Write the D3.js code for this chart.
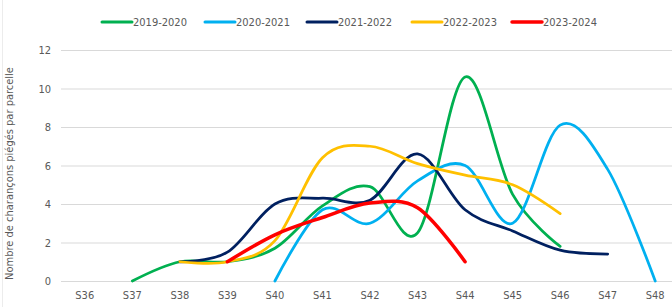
<!DOCTYPE html>
<html>
<head>
<meta charset="utf-8">
<script src="https://cdn.jsdelivr.net/npm/d3@7"></script>
<style>
  html, body { margin: 0; padding: 0; background: #fff; }
  svg { display: block; }
</style>
</head>
<body>
<div id="chart"></div>
<script>
// weeks on the x axis
const weeks = ["S36", "S37", "S38", "S39", "S40", "S41", "S42", "S43", "S44", "S45", "S46", "S47", "S48"];

const seasons = ["2019-2020", "2020-2021", "2021-2022", "2022-2023", "2023-2024"];
const seasonColors = ["#00b050", "#00b0f0", "#002060", "#ffc000", "#ff0000"];

// trap counts per week (null = no reading)
const s2019 = [null, 0, 1, 1, 1.7, 3.9, 4.9, 2.5, 10.6, 4.5, 1.8, null, null];
const s2020 = [null, null, null, null, 0, 3.7, 3.0, 5.2, 6.0, 3.0, 8.1, 5.8, 0];
const s2021 = [null, null, 1, 1.5, 4.0, 4.3, 4.2, 6.6, 3.7, 2.6, 1.6, 1.4, null];
const s2022 = [null, null, 1, 1, 2.1, 6.4, 7.0, 6.1, 5.5, 5.0, 3.5, null, null];
const s2023 = [null, null, null, 1, 2.4, 3.3, 4.05, 3.8, 1.0, null, null, null, null];

const yTicks = [0, 2, 4, 6, 8, 10, 12];

const series = [s2019, s2020, s2021, s2022, s2023].map((vals, i) => ({
  name: seasons[i],
  color: seasonColors[i],
  values: vals.map((v, j) => ({ week: weeks[j], value: v }))
}));

const width = 672;
const height = 307;
const margin = { top: 50, right: -7, bottom: 26, left: 61 };

const font = "'Liberation Sans Narrow', 'DejaVu Sans Condensed', 'Open Sans', sans-serif";

const svg = d3.select("#chart")
  .append("svg")
  .attr("width", width)
  .attr("height", height)
  .style("font-family", font);

const x = d3.scaleBand()
  .domain(weeks)
  .range([margin.left, width - margin.right]);

const y = d3.scaleLinear()
  .domain([0, 12])
  .range([height - margin.bottom, margin.top]);

// faint outer border on the left
svg.append("line")
  .attr("x1", 2.5).attr("x2", 2.5)
  .attr("y1", 0).attr("y2", height)
  .attr("stroke", "#ececec");

// gridlines + y labels
const yAxis = svg.append("g")
  .attr("transform", `translate(${margin.left},0)`)
  .call(d3.axisLeft(y)
    .tickValues(yTicks)
    .tickSize(-(width - margin.left - margin.right))
    .tickPadding(10)
    .tickFormat(d3.format("d")));

yAxis.select(".domain").remove();
yAxis.selectAll(".tick line").attr("stroke", "#d9d9d9").attr("stroke-width", 1);
yAxis.selectAll(".tick text")
  .attr("fill", "#595959")
  .style("font-family", font)
  .style("font-size", "11px");

// x labels
const xAxis = svg.append("g")
  .attr("transform", `translate(0,${height - margin.bottom})`)
  .call(d3.axisBottom(x).tickSize(0).tickPadding(10));

xAxis.select(".domain").remove();
xAxis.selectAll(".tick text")
  .attr("fill", "#595959")
  .style("font-family", font)
  .style("font-size", "11px");

// y axis title
svg.append("text")
  .attr("transform", `translate(13,${(height - margin.bottom + margin.top) / 2 + 8}) rotate(-90)`)
  .attr("text-anchor", "middle")
  .attr("fill", "#595959")
  .style("font-size", "11px")
  .text("Nombre de charançons piégés par parcelle");

// smoothed lines, Excel style
const line = d3.line()
  .defined((d) => d.value !== null)
  .x((d) => x(d.week) + x.bandwidth() / 2)
  .y((d) => y(d.value))
  .curve(d3.curveCardinal.tension(0));

svg.append("g")
  .selectAll("path")
  .data(series)
  .join("path")
  .attr("fill", "none")
  .attr("stroke", (d) => d.color)
  .attr("stroke-width", (d) => (d.name === "2023-2024" ? 3.5 : 2.75))
  .attr("stroke-linecap", "round")
  .attr("stroke-linejoin", "round")
  .attr("d", (d) => line(d.values));

// legend
const legendX = [102, 205, 307, 412, 512];
const legend = svg.append("g")
  .selectAll("g")
  .data(series)
  .join("g")
  .attr("transform", (d, i) => `translate(${legendX[i]},22)`);

legend.append("line")
  .attr("x1", 0).attr("x2", 30)
  .attr("stroke", (d) => d.color)
  .attr("stroke-width", (d) => (d.name === "2023-2024" ? 3.5 : 3))
  .attr("stroke-linecap", "round");

legend.append("text")
  .attr("x", 31)
  .attr("dy", "0.35em")
  .attr("fill", "#595959")
  .style("font-size", "11px")
  .text((d) => d.name);
</script>
</body>
</html>
